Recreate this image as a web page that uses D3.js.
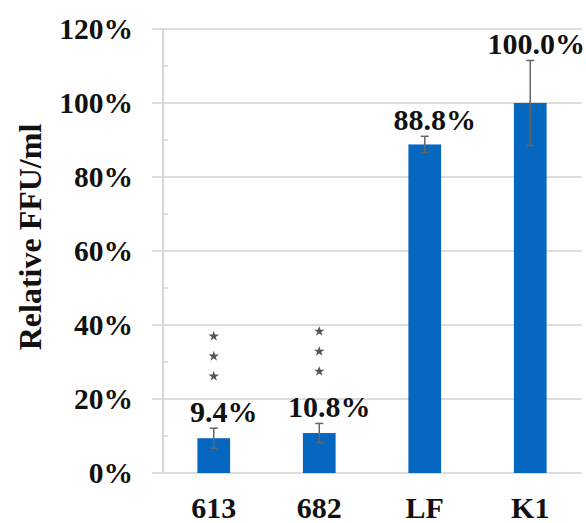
<!DOCTYPE html>
<html>
<head>
<meta charset="utf-8">
<script src="https://cdn.jsdelivr.net/npm/d3@7/dist/d3.min.js"></script>
<style>
  body { margin: 0; background: #fff; }
</style>
</head>
<body>
<svg id="chart" width="586" height="523"></svg>
<script>
// data
const categories = ["613", "682", "LF", "K1"];
const values = [9.4, 10.8, 88.8, 100.0];
const errors = [2.7, 2.6, 2.2, 11.5];
const valueLabels = ["9.4%", "10.8%", "88.8%", "100.0%"];
const significance = ["***", "***", "", ""];
const yTicks = [0, 20, 40, 60, 80, 100, 120];
const yMinorTicks = [10, 30, 50, 70, 90, 110];

const FONT = "'Liberation Serif', Tinos, 'Times New Roman', Times, serif";

const svg = d3.select("#chart")
  .attr("font-family", FONT)
  .attr("font-weight", "bold");

const y = d3.scaleLinear().domain([0, 120]).range([473, 29]);
const x = d3.scaleBand().domain(categories).range([161, 583]).padding(0);
const barW = x.bandwidth() * 0.31;
const cx = d => x(d) + x.bandwidth() / 2;

// gridlines
svg.append("g").selectAll("line").data(yTicks).join("line")
  .attr("x1", 152).attr("x2", 582)
  .attr("y1", d => y(d)).attr("y2", d => y(d))
  .attr("stroke", "#dcdcdc").attr("stroke-width", 2);

// y axis line + minor ticks
svg.append("line").attr("x1", 163).attr("x2", 163)
  .attr("y1", y(120)).attr("y2", y(0))
  .attr("stroke", "#d6d6d6").attr("stroke-width", 2);
svg.append("g").selectAll("line").data(yMinorTicks).join("line")
  .attr("x1", 163).attr("x2", 168)
  .attr("y1", d => y(d)).attr("y2", d => y(d))
  .attr("stroke", "#d6d6d6").attr("stroke-width", 1.5);

// y tick labels
svg.append("g").selectAll("text").data(yTicks).join("text")
  .attr("x", 133).attr("y", d => y(d) + 10)
  .attr("text-anchor", "end").attr("font-size", 29.5).attr("fill", "#111")
  .text(d => d + "%");

// axis title
svg.append("text")
  .attr("transform", "translate(41,237) rotate(-90)")
  .attr("text-anchor", "middle").attr("font-size", 32).attr("fill", "#111")
  .text("Relative FFU/ml");

// bars
svg.append("g").selectAll("rect").data(categories).join("rect")
  .attr("x", d => cx(d) - barW / 2)
  .attr("width", barW)
  .attr("y", (d, i) => y(values[i]))
  .attr("height", (d, i) => y(0) - y(values[i]))
  .attr("fill", "#0567c0");

// error bars
const eb = svg.append("g").attr("stroke", "#666").attr("stroke-width", 1.5);
categories.forEach((c, i) => {
  const top = y(values[i] + errors[i]), bot = y(values[i] - errors[i]);
  eb.append("line").attr("x1", cx(c)).attr("x2", cx(c)).attr("y1", top).attr("y2", bot);
  eb.append("line").attr("x1", cx(c) - 4).attr("x2", cx(c) + 4).attr("y1", top).attr("y2", top);
  eb.append("line").attr("x1", cx(c) - 4).attr("x2", cx(c) + 4).attr("y1", bot).attr("y2", bot);
});

// value labels (nudged right, kept inside the plot)
svg.append("g").selectAll("text").data(categories).join("text")
  .attr("y", (d, i) => y(values[i] + errors[i]) - 6)
  .attr("text-anchor", "middle").attr("font-size", 30).attr("fill", "#111")
  .text((d, i) => valueLabels[i])
  .attr("x", function(d) {
    const w = this.getComputedTextLength();
    return Math.min(cx(d) + 10, 585 - w / 2);
  });

// significance stars
const star = d3.symbol().type(d3.symbolStar).size(34);
categories.forEach((c, i) => {
  const n = significance[i].length;
  const base = y(values[i] + errors[i]) - 6 - 46;
  for (let k = 0; k < n; k++) {
    svg.append("path").attr("d", star)
      .attr("transform", "translate(" + cx(c) + "," + (base - k * 20) + ")")
      .attr("fill", "#555");
  }
});

// x labels
svg.append("g").selectAll("text").data(categories).join("text")
  .attr("x", d => cx(d)).attr("y", 518)
  .attr("text-anchor", "middle").attr("font-size", 30).attr("fill", "#111")
  .text(d => d);
</script>
</body>
</html>
